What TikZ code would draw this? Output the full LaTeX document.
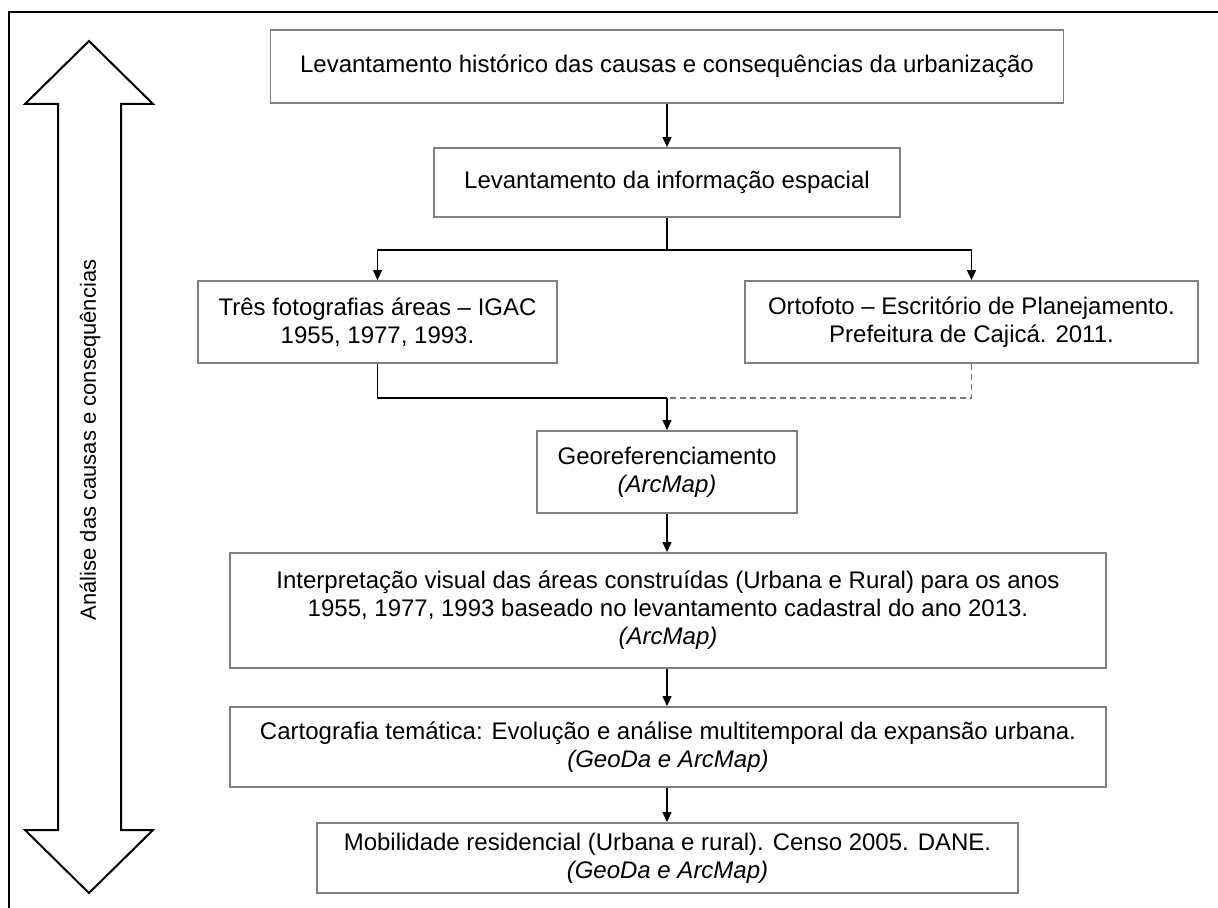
\documentclass[tikz,border=0pt]{standalone}
\usepackage{fontspec}
\setmainfont{Liberation Sans}
\usepackage{tikz}
\usetikzlibrary{arrows.meta}
\tikzstyle{box} = [draw=black!50, line width=0.9pt, fill=white, align=center, inner sep=0pt, font=\fontsize{12}{14}\selectfont]
\tikzstyle{tracejada} = [draw=black!55, dash pattern=on 3pt off 2pt]
\tikzstyle{invis} = [draw=none]

\begin{document}
\begin{tikzpicture}[x=0.5pt,y=-0.5pt,->,>={Triangle[length=5pt,width=4.5pt]},line width=0.6pt]

\useasboundingbox (0,0) rectangle (1218,908);
% moldura
\draw[-, line width=1pt] (9,908) -- (9,12) -- (1218,12);

% seta dupla lateral
\draw[-, line width=1pt] (89,41) -- (153,104) -- (121,104) -- (121,830) -- (153,830) -- (89,893)
  -- (25,830) -- (58,830) -- (58,104) -- (25,104) -- cycle;
\node[invis, rotate=90, font=\fontsize{11}{13}\selectfont] (eixo) at (90,440) {Análise das causas e consequências};

\node[box, minimum width=396.5pt, minimum height=36.5pt] (hist) at (667,66.5) {Levantamento histórico das causas e consequências da urbanização};
\node[box, minimum width=233pt, minimum height=34.5pt] (espacial) at (667,182.5) {Levantamento da informação espacial};
\node[box, minimum width=179.5pt, minimum height=41pt] (fotos) at (377.5,322) {Três fotografias áreas -- IGAC\\1955, 1977, 1993.};
\node[box, minimum width=226.5pt, minimum height=41pt] (orto) at (971.5,322) {Ortofoto -- Escritório de Planejamento.\\Prefeitura de Cajicá. 2011.};
\node[box, minimum width=130pt, minimum height=41pt] (geo) at (667,472) {Georeferenciamento\\\textit{(ArcMap)}};
\node[box, minimum width=438pt, minimum height=57.5pt] (interp) at (668,610.5) {Interpretação visual das áreas construídas (Urbana e Rural) para os anos\\1955, 1977, 1993 baseado no levantamento cadastral do ano 2013.\\\textit{(ArcMap)}};
\node[box, minimum width=438pt, minimum height=40pt] (carto) at (668,747) {Cartografia temática: Evolução e análise multitemporal da expansão urbana.\\\textit{(GeoDa e ArcMap)}};
\node[box, minimum width=350.5pt, minimum height=35pt] (mob) at (667.5,858) {Mobilidade residencial (Urbana e rural). Censo 2005. DANE.\\\textit{(GeoDa e ArcMap)}};

\coordinate (ramo) at (667,250);
\coordinate (junta) at (667,398);

\path
(hist) edge [] node {} (espacial);

\draw[-] (espacial) -- (ramo);
\draw (ramo) -| (fotos);
\draw (ramo) -| (orto);

\draw[-] (fotos) |- (junta);
\draw[tracejada, -] (orto) |- (junta);
\draw (junta) -- (geo);

\path
(geo) edge [] node {} (geo |- interp.north)
(interp.south -| geo) edge [] node {} (geo |- carto.north)
(carto.south -| geo) edge [] node {} (geo |- mob.north);

\end{tikzpicture}
\end{document}
